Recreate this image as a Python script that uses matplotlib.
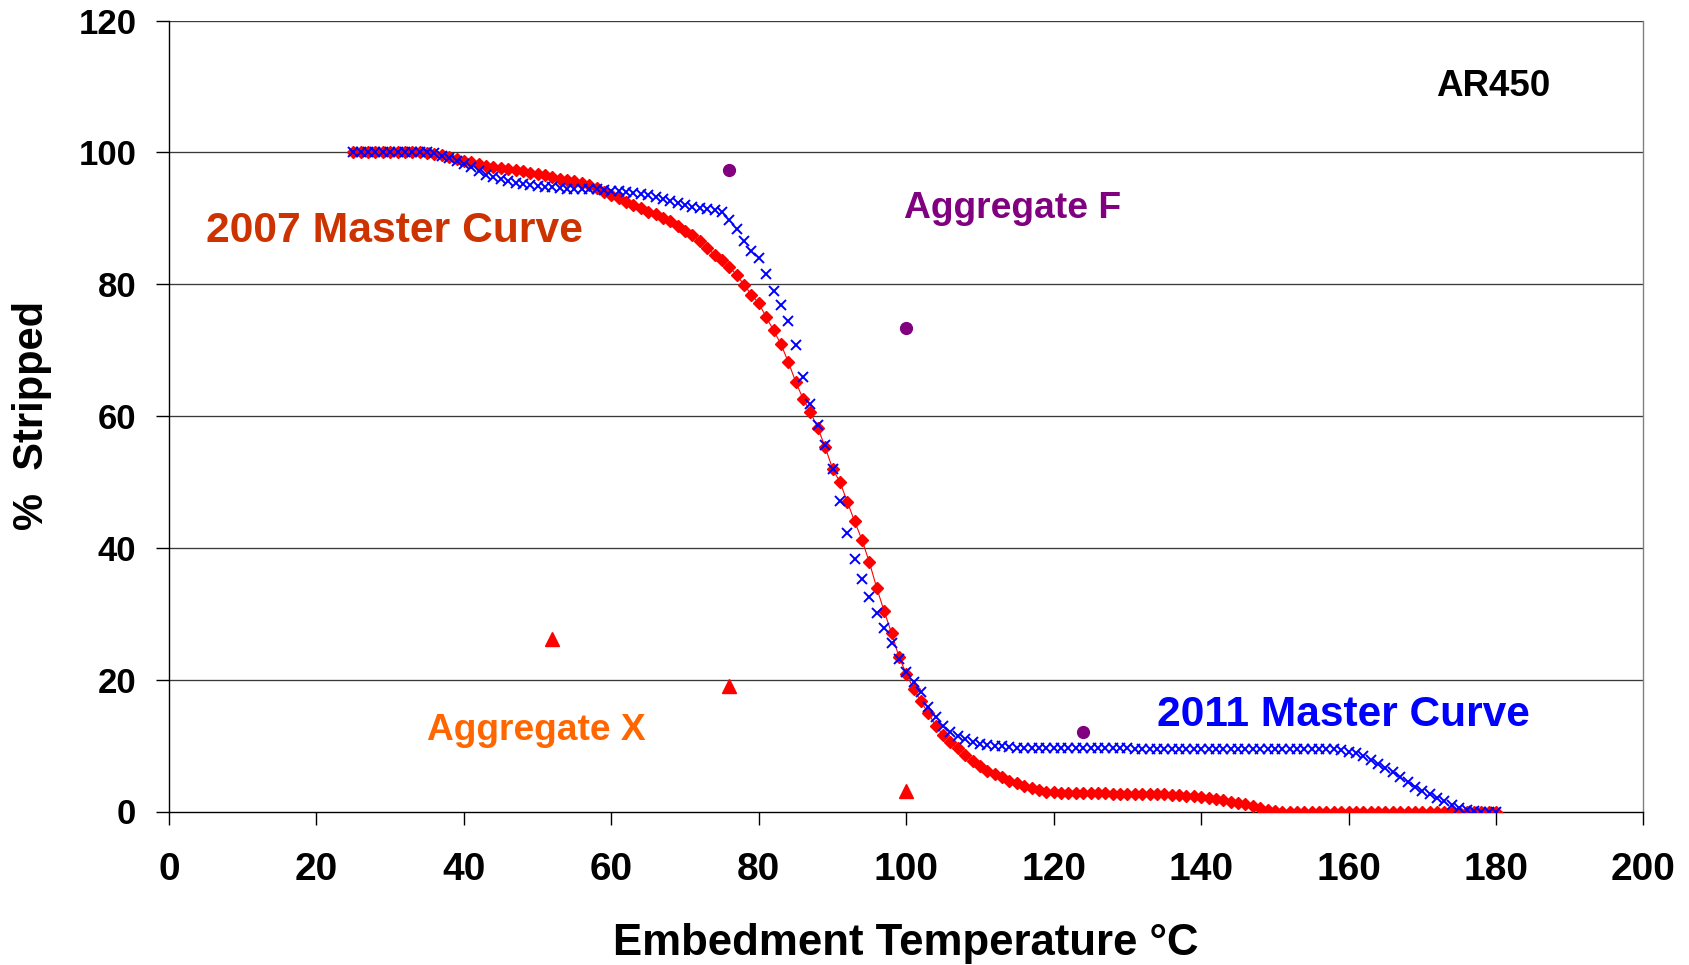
import matplotlib
matplotlib.use("Agg")
import matplotlib.pyplot as plt
from matplotlib import font_manager

# ---------------- data ----------------
temps = list(range(25, 181))

master_2007 = [
    100, 100, 100, 100, 100, 100, 100, 100, 100, 100, 99.9,            # 25-35
    99.8, 99.6, 99.3, 99.0, 98.7, 98.5, 98.2, 97.9, 97.7, 97.6,        # 36-45
    97.5, 97.3, 97.1, 96.9, 96.7, 96.5, 96.2, 96.0, 95.8, 95.6,        # 46-55
    95.3, 95.0, 94.6, 94.0, 93.5, 93.0, 92.5, 92.0, 91.5, 91.0,        # 56-65
    90.6, 90.1, 89.6, 88.9, 88.1, 87.4, 86.5, 85.5, 84.5, 83.6,        # 66-75
    82.6, 81.4, 79.9, 78.4, 77.1, 75.0, 73.0, 70.9, 68.2, 65.2,        # 76-85
    62.6, 60.6, 58.2, 55.3, 52.0, 50.0, 47.0, 44.0, 41.2, 37.8,        # 86-95
    33.9, 30.4, 27.1, 23.5, 20.9, 18.6, 16.7, 14.9, 13.0, 11.6,        # 96-105
    10.6, 9.6, 8.6, 7.7, 6.9, 6.2, 5.7, 5.2, 4.7, 4.3,                 # 106-115
    3.9, 3.5, 3.2, 3.0, 2.9, 2.8, 2.8, 2.8, 2.8, 2.8,                  # 116-125
    2.8, 2.8, 2.7, 2.7, 2.7, 2.7, 2.7, 2.7, 2.6, 2.6,                  # 126-135
    2.5, 2.5, 2.4, 2.3, 2.2, 2.0, 1.9, 1.7, 1.5, 1.3,                  # 136-145
    1.1, 0.8, 0.5, 0.3, 0.1, 0, 0, 0, 0, 0,                            # 146-155
    0, 0, 0, 0, 0, 0, 0, 0, 0, 0,                                      # 156-165
    0, 0, 0, 0, 0, 0, 0, 0, 0, 0,                                      # 166-175
    0, 0, 0, 0, 0,                                                     # 176-180
]

master_2011 = [
    100, 100, 100, 100, 100, 100, 100, 100, 100, 100, 100,             # 25-35
    99.9, 99.5, 99.1, 98.7, 98.3, 97.7, 97.1, 96.6, 96.3, 96.0,        # 36-45
    95.7, 95.4, 95.2, 95.0, 94.9, 94.8, 94.7, 94.6, 94.5, 94.5,        # 46-55
    94.4, 94.4, 94.4, 94.3, 94.2, 94.1, 94.0, 93.9, 93.7, 93.5,        # 56-65
    93.2, 92.9, 92.6, 92.3, 92.0, 91.7, 91.5, 91.4, 91.2, 90.9,        # 66-75
    89.7, 88.4, 86.6, 85.1, 83.9, 81.6, 79.0, 76.8, 74.4, 70.8,        # 76-85
    65.9, 61.8, 58.6, 55.6, 52.0, 47.1, 42.3, 38.3, 35.2, 32.6,        # 86-95
    30.1, 27.9, 25.6, 23.1, 21.1, 19.6, 18.1, 15.9, 14.4, 12.9,        # 96-105
    12.1, 11.5, 11.0, 10.6, 10.3, 10.1, 10.0, 9.9, 9.8, 9.7,           # 106-115
    9.6, 9.6, 9.6, 9.6, 9.6, 9.6, 9.6, 9.6, 9.6, 9.6,                  # 116-125
    9.6, 9.6, 9.6, 9.6, 9.6, 9.5, 9.5, 9.5, 9.5, 9.5,                  # 126-135
    9.5, 9.5, 9.5, 9.5, 9.5, 9.5, 9.5, 9.5, 9.5, 9.5,                  # 136-145
    9.5, 9.5, 9.5, 9.5, 9.5, 9.5, 9.5, 9.5, 9.5, 9.5,                  # 146-155
    9.5, 9.5, 9.5, 9.3, 9.1, 8.8, 8.4, 7.8, 7.2, 6.6,                  # 156-165
    6.0, 5.2, 4.4, 3.7, 3.1, 2.7, 2.1, 1.6, 1.0, 0.6,                  # 166-175
    0.3, 0.1, 0, 0, 0,                                                 # 176-180
]

agg_f_temp = [76, 100, 124]
agg_f_strip = [97.3, 73.4, 12.1]

agg_x_temp = [52, 76, 100]
agg_x_strip = [26.2, 19.1, 3.1]

x_ticks = list(range(0, 201, 20))
y_ticks = list(range(0, 121, 20))

# ---------------- fonts ----------------
names = {f.name for f in font_manager.fontManager.ttflist}
base = "Liberation Sans" if "Liberation Sans" in names else "DejaVu Sans"
plt.rcParams["font.family"] = [base, "DejaVu Sans"]

W, H = 1690, 965
fig = plt.figure(figsize=(W / 100, H / 100), dpi=100)
ax = fig.add_axes([169 / W, 1 - 811.5 / H, (1643.5 - 169) / W, (811.5 - 20.5) / H])

ax.set_xlim(0, 200)
ax.set_ylim(0, 120)

for yv in y_ticks[1:]:
    ax.axhline(yv, color="#3a3a3a", lw=0.95, zorder=1)

ax.plot(temps, master_2007, color="#ff0000", lw=0.8, marker="D", ms=5.8,
        mec="#ff0000", mfc="#ff0000", zorder=3)
ax.plot(temps, master_2011, ls="none", marker="x", ms=7, mew=1.4,
        color="#0000ff", zorder=4)
ax.plot(agg_x_temp, agg_x_strip, ls="none", marker="^", ms=9.5,
        color="#ff0000", zorder=5)
ax.plot(agg_f_temp, agg_f_strip, ls="none", marker="o", ms=8.5,
        color="#800080", zorder=5)

for s in ["left", "bottom"]:
    ax.spines[s].set_color("black")
    ax.spines[s].set_linewidth(1.0)
ax.spines["right"].set_color("#808080")
ax.spines["right"].set_linewidth(1.0)
ax.spines["top"].set_visible(False)

ax.set_xticks(x_ticks)
ax.set_yticks(y_ticks)
ax.tick_params(axis="both", direction="out", length=9.5, width=1.0, color="black")
ax.tick_params(axis="y", pad=14)
ax.tick_params(axis="x", pad=20)
for lab in ax.get_yticklabels():
    lab.set_fontsize(25)
    lab.set_fontweight("bold")
for lab in ax.get_xticklabels():
    lab.set_fontsize(28)
    lab.set_fontweight("bold")

def ftext(px, py, s, **kw):
    fig.text(px / W, 1 - py / H, s, ha="center", va="center",
             fontweight="bold", **kw)

ftext(905.5, 944, "Embedment Temperature °C", fontsize=31.5, color="black")
ftext(32, 415, "%  Stripped", fontsize=30, color="black", rotation=90)

ftext(1493, 86, "AR450", fontsize=26.5, color="black")
ftext(394.5, 231.5, "2007 Master Curve", fontsize=30.7, color="#cc3300")
ftext(1013, 208, "Aggregate F", fontsize=26.8, color="#800080")
ftext(1343, 715.5, "2011 Master Curve", fontsize=30.6, color="#0000ff")
ftext(536, 730.6, "Aggregate X", fontsize=26.7, color="#ff6600")

fig.savefig("out.png", dpi=100, facecolor="white")
